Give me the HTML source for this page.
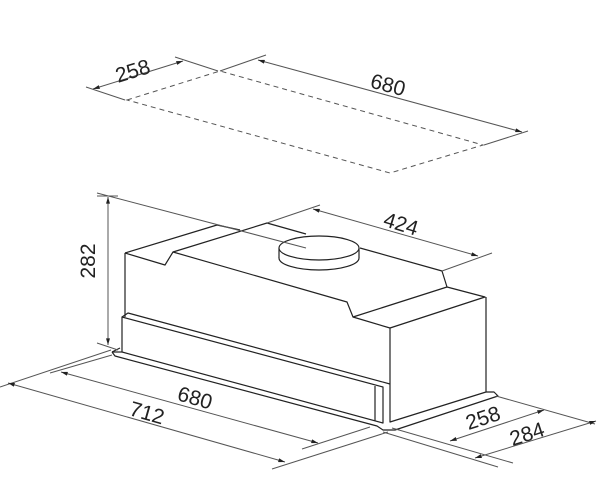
<!DOCTYPE html>
<html><head><style>
html,body{margin:0;padding:0;background:#fff;}
svg{display:block;}
text{font-family:"Liberation Sans",sans-serif;font-size:21px;fill:#222;}
</style></head><body>
<svg width="600" height="492" viewBox="0 0 600 492" xmlns="http://www.w3.org/2000/svg">
<defs>
<marker id="a" viewBox="0 0 10 6" refX="10" refY="3" markerWidth="7" markerHeight="4" orient="auto-start-reverse" markerUnits="userSpaceOnUse"><path d="M0,0L10,3L0,6z" fill="#222"/></marker>
</defs>
<g stroke="#555" stroke-width="1" fill="none">
<path d="M127,100 L220,71 L483,145 L390,173 Z" stroke-dasharray="5,4"/>
<line x1="86" y1="87" x2="125" y2="100"/>
<line x1="175" y1="57" x2="218" y2="71"/>
<line x1="93" y1="89" x2="183" y2="61" marker-start="url(#a)" marker-end="url(#a)"/>
<line x1="220" y1="71" x2="266" y2="55"/>
<line x1="484" y1="145" x2="528" y2="131"/>
<line x1="258" y1="60" x2="522" y2="132" marker-start="url(#a)" marker-end="url(#a)"/>
</g>
<g stroke="#222" stroke-width="1.2" fill="none" stroke-linejoin="round">
<path d="M125,253 L217,225 L240,230"/>
<path d="M125,253 L165,265 L173,252 L347,302 L353,317 L390,328 L485,297 L447,287 L442,271"/>
<path d="M173,252 L267,223 L306,234"/>
<path d="M360,248 L442,271"/>
<path d="M353,317 L447,287"/>
<path d="M125,253 L125,317"/>
<path d="M390,328 L390,422 L486,392 L486,297"/>
<ellipse cx="319" cy="258" rx="40" ry="12" fill="#fff"/>
<rect x="279" y="248" width="80" height="10" fill="#fff" stroke="none"/>
<line x1="279" y1="248" x2="279" y2="258"/>
<line x1="359" y1="248" x2="359" y2="258"/>
<ellipse cx="319" cy="248" rx="40" ry="12" fill="#fff"/>
<path d="M122,317 L383,387 L383,423 L122,352 Z"/>
<path d="M122,317 L128,313 L390,384"/>
<path d="M375,386 L375,421"/>
<path d="M112,352 L120,348 M112,352 L115,356 L377,426 L383,430 L395,430 L498,396 L494,392 L486,392"/>
<path d="M122,352 L112,352"/>
</g>
<g stroke="#555" stroke-width="1" fill="none">
<line x1="97" y1="193" x2="306" y2="248"/>
<line x1="267" y1="223" x2="320" y2="205"/>
<line x1="442" y1="271" x2="492" y2="253"/>
<line x1="313" y1="209" x2="478" y2="256" marker-start="url(#a)" marker-end="url(#a)"/>
<line x1="97" y1="196" x2="118" y2="196"/>
<line x1="97" y1="343" x2="118" y2="350"/>
<line x1="108" y1="197" x2="108" y2="345" marker-start="url(#a)" marker-end="url(#a)"/>
<line x1="111" y1="350" x2="0" y2="387"/>
<line x1="112" y1="355" x2="50" y2="373"/>
<line x1="61" y1="372" x2="318" y2="443" marker-start="url(#a)" marker-end="url(#a)"/>
<line x1="302" y1="449" x2="370" y2="427"/>
<line x1="8" y1="383" x2="285" y2="462" marker-start="url(#a)" marker-end="url(#a)"/>
<line x1="272" y1="469" x2="388" y2="432"/>
<line x1="392" y1="428" x2="513" y2="463"/>
<line x1="496" y1="396" x2="595" y2="424"/>
<line x1="383" y1="432" x2="498" y2="467"/>
<line x1="450" y1="441" x2="544" y2="410" marker-start="url(#a)" marker-end="url(#a)"/>
<line x1="475" y1="458" x2="596" y2="421" marker-start="url(#a)" marker-end="url(#a)"/>
</g>
<text x="133" y="78" text-anchor="middle" transform="rotate(-17 133 72)">258</text>
<text x="388" y="92" text-anchor="middle" transform="rotate(15 388 85)">680</text>
<text x="401" y="231" text-anchor="middle" transform="rotate(17 401 224)">424</text>
<text x="102" y="268" text-anchor="middle" transform="rotate(-90 95 268)">282</text>
<text x="195" y="405" text-anchor="middle" transform="rotate(16 195 398)">680</text>
<text x="147" y="420" text-anchor="middle" transform="rotate(16 147 413)">712</text>
<text x="483" y="425" text-anchor="middle" transform="rotate(-18 483 418)">258</text>
<text x="527" y="441" text-anchor="middle" transform="rotate(-18 527 434)">284</text>
</svg>
</body></html>
